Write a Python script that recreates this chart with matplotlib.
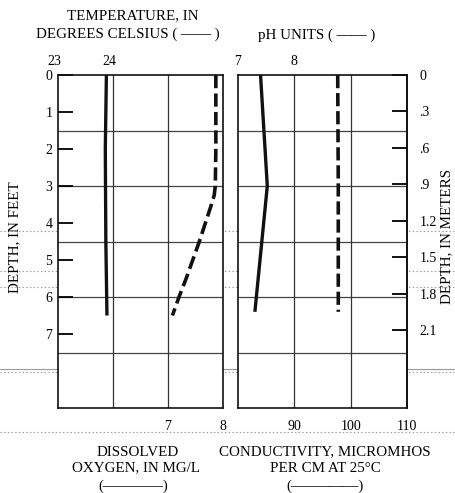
import matplotlib.pyplot as plt
import matplotlib.transforms as mtransforms
from matplotlib.lines import Line2D

plt.rcParams['font.family'] = ['Liberation Serif', 'DejaVu Serif']
plt.rcParams['font.size'] = 10
plt.rcParams['lines.scale_dashes'] = False

# depth profiles, depth in feet
temp_depth = [0, 2, 4.5, 6.5]
temp_c = [23.88, 23.86, 23.87, 23.89]

do_depth = [0, 1, 2, 3, 3.25, 3.5, 4, 4.5, 5, 5.5, 6, 6.5]
do_mgl = [7.87, 7.87, 7.87, 7.86, 7.84, 7.79, 7.68, 7.57, 7.45, 7.33, 7.2, 7.08]

ph_depth = [0, 3, 6.4]
ph_units = [7.40, 7.52, 7.30]

cond_depth = [0, 3, 6.4]
cond_umhos = [97.7, 97.8, 97.8]

# axis ticks and labels
feet_ticks = [0, 1, 2, 3, 4, 5, 6, 7]
meter_ticks = [0, 0.3, 0.6, 0.9, 1.2, 1.5, 1.8, 2.1]
meter_labels = ['0', '.3', '.6', '.9', '1.2', '1.5', '1.8', '2.1']
temp_ticks = [23, 24]
do_ticks = [7, 8]
ph_ticks = [7, 8]
cond_ticks = [90, 100, 110]
grid_depths = [1.5, 3, 4.5, 6, 7.5]

W, H = 455, 493
fig = plt.figure(figsize=(W / 100, H / 100), dpi=100)
ink = '#111111'


def box(x0, y0, x1, y1):
    return [x0 / W, 1 - y1 / H, (x1 - x0) / W, (y1 - y0) / H]


def overlay(rect, xlim, ticks):
    # extra scale drawn along the top of a panel
    a = fig.add_axes(rect)
    a.patch.set_visible(False)
    a.set_xlim(*xlim)
    a.set_ylim(9, 0)
    a.xaxis.tick_top()
    a.set_xticks(ticks)
    a.tick_params(axis='x', length=0, pad=5)
    a.set_yticks([])
    for s in a.spines.values():
        s.set_visible(False)
    return a


left_rect = box(58, 75, 223, 408)
right_rect = box(238, 75, 407, 408)

ax1 = fig.add_axes(left_rect)
ax2 = fig.add_axes(right_rect)
for a in (ax1, ax2):
    a.set_ylim(9, 0)
    for s in a.spines.values():
        s.set_linewidth(1.2)
        s.set_color(ink)
ax1.set_xlim(5, 8)
ax2.set_xlim(80, 110)

ax1t = overlay(left_rect, (23, 26), temp_ticks)
ax2t = overlay(right_rect, (7, 10), ph_ticks)

# grid
for d in grid_depths:
    ax1.axhline(d, color='#444444', lw=0.9, zorder=1)
    ax2.axhline(d, color='#444444', lw=0.9, zorder=1)
for v in [6, 7]:
    ax1.axvline(v, color='#333333', lw=0.9, zorder=1)
for v in [90, 100]:
    ax2.axvline(v, color='#333333', lw=0.9, zorder=1)

# curves
ax1t.plot(temp_c, temp_depth, color=ink, lw=2.4, solid_capstyle='butt')
ax1.plot(do_mgl, do_depth, color=ink, lw=2.6, dashes=(9.5, 3.8), dash_capstyle='butt')
ax2t.plot(ph_units, ph_depth, color=ink, lw=2.4, solid_capstyle='butt')
ax2.plot(cond_umhos, cond_depth, color=ink, lw=2.6, dashes=(9.5, 3.5), dash_capstyle='butt')

# bottom scales
ax1.set_xticks(do_ticks)
ax1.tick_params(axis='x', length=0, pad=9)
ax2.set_xticks(cond_ticks)
ax2.tick_params(axis='x', length=0, pad=9)

# feet ticks on the left panel
ax1.set_yticks(feet_ticks)
ax1.set_yticklabels([str(t) for t in feet_ticks])
ax1.tick_params(axis='y', direction='in', length=11, width=1.3, pad=4,
                left=True, right=False, color='black')
ax2.set_yticks([])

sec = ax2.secondary_yaxis('right', functions=(lambda f: f * 0.3048, lambda m: m / 0.3048))
sec.set_yticks(meter_ticks)
sec.set_yticklabels(meter_labels)
sec.tick_params(direction='in', length=11, width=1.3, pad=9)
sec.spines['right'].set_linewidth(1.2)

# top labels sit a little left of their grid lines in the original
shift = mtransforms.ScaledTranslation(-4 / 100, 0, fig.dpi_scale_trans)
for lbl in ax1t.get_xticklabels():
    lbl.set_transform(lbl.get_transform() + shift)

# titles
fs = 10.8
fig.text(133 / W, 1 - 16 / H, 'TEMPERATURE, IN', ha='center', va='center', fontsize=fs)
fig.text(36 / W, 1 - 34 / H, 'DEGREES CELSIUS ( —— )', ha='left', va='center', fontsize=fs)
fig.text(258 / W, 1 - 35 / H, 'pH UNITS ( —— )', ha='left', va='center', fontsize=fs)

fig.text(138 / W, 1 - 452 / H, 'DISSOLVED', ha='center', va='center', fontsize=fs)
fig.text(136 / W, 1 - 468 / H, 'OXYGEN, IN MG/L', ha='center', va='center', fontsize=fs)
fig.text(133 / W, 1 - 486 / H, '(————)', ha='center', va='center', fontsize=fs)

fig.text(325 / W, 1 - 452 / H, 'CONDUCTIVITY, MICROMHOS', ha='center', va='center', fontsize=fs)
fig.text(325 / W, 1 - 468 / H, 'PER CM AT 25°C', ha='center', va='center', fontsize=fs)
fig.text(325 / W, 1 - 486 / H, '(——–——)', ha='center', va='center', fontsize=fs)

fig.text(15 / W, 1 - 237 / H, 'DEPTH, IN FEET', rotation=90, ha='center', va='center', fontsize=fs)
fig.text(447 / W, 1 - 236 / H, 'DEPTH, IN METERS', rotation=90, ha='center', va='center', fontsize=fs)

# faint scan lines across the sheet
for y, ls in [(231, ':'), (271, ':'), (287, ':'), (369, '-'), (372, ':'), (432, ':')]:
    fig.add_artist(Line2D([0, 1], [1 - y / H, 1 - y / H], transform=fig.transFigure,
                          color='#999999', lw=0.8, ls=ls, zorder=0))

fig.savefig('out.png', dpi=100)
